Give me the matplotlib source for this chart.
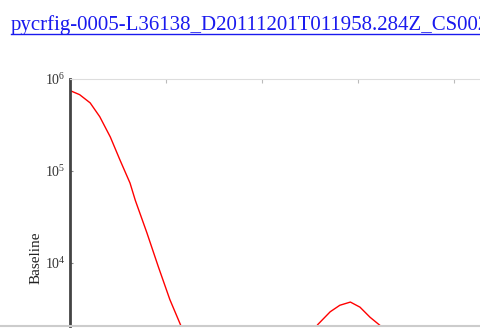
import numpy as np
import matplotlib
matplotlib.use("Agg")
import matplotlib.pyplot as plt
from matplotlib.lines import Line2D

plt.rcParams["mathtext.fontset"] = "stix"
plt.rcParams["font.family"] = ["Liberation Serif", "DejaVu Serif"]

title = "pycrfig-0005-L36138_D20111201T011958.284Z_CS002"

# main lobe and first side lobe of the baseline response
lobe_x = [0.1, 1.0, 2.1, 3.1, 4.2, 5.2, 6.25, 6.8, 8.0, 9.2, 10.4, 11.5, 12.5,
          19.0, 25.0, 25.8, 27.1, 28.1, 29.2, 30.2, 31.25, 32.3, 33.3]
lobe_y = [741000, 676000, 550000, 389000, 234000, 132000, 74000, 48000, 21400,
          9100, 4000, 2140, 1000, 150, 1600, 2140, 2950, 3470, 3760, 3310,
          2570, 2090, 1600]

x_ticks = [0, 10, 20, 30, 40]

W, H = 480, 332
fig = plt.figure(figsize=(W / 100, H / 100), dpi=100)

# page title rendered as an underlined link
fig.text(11 / W, 1 - 30 / H, title, color="#1a1aee", fontsize=15,
         va="baseline", ha="left")
fig.add_artist(Line2D([11 / W, 1.0], [1 - 33.5 / H, 1 - 33.5 / H],
                      color="#1a1aee", lw=1, transform=fig.transFigure))

# container edge under the plot
fig.add_artist(Line2D([0, 1], [6 / H, 6 / H], color="#cccccc", lw=1.5,
                      transform=fig.transFigure))

ax = fig.add_axes([70 / W, 6 / H, 1 - 70 / W, (326 - 79) / H])
ax.plot(lobe_x, lobe_y, color="red", lw=1)
ax.set_yscale("log")
ax.set_ylim(10 ** 3.315, 1e6)
ax.set_xlim(0, 42.7)
ax.set_xticks(x_ticks)
ax.set_yticks([1e4, 1e5, 1e6])
ax.minorticks_off()

ax.tick_params(axis="x", direction="in", top=True, bottom=False,
               labelbottom=False, length=3, color="#bbbbbb")
ax.tick_params(axis="y", direction="in", length=2, color="#888888",
               labelsize=10, labelcolor="#333333", pad=3)

for side in ("right", "bottom"):
    ax.spines[side].set_visible(False)
ax.spines["top"].set_color("#dddddd")
ax.spines["left"].set_color("#444444")
ax.spines["left"].set_linewidth(2)

ax.set_ylabel("Baseline", fontsize=11, color="#222222")
ax.yaxis.set_label_coords(-0.068, 0.275)

fig.savefig("out.png", dpi=100)
